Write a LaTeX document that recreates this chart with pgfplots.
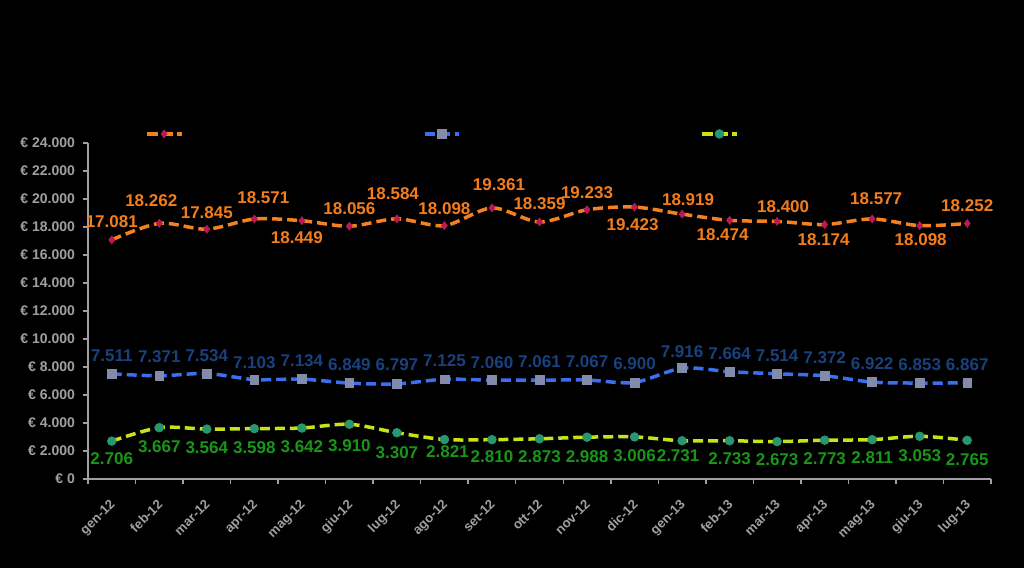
\documentclass[border=0pt]{standalone}
\usepackage{pgfplots}
\pgfplotsset{compat=1.18}
\usepackage{pgfplotstable}
\usepackage{fontspec}
\setmainfont{Liberation Sans}
\definecolor{axgray}{RGB}{160,160,160}
\definecolor{orline}{RGB}{245,128,30}
\definecolor{orlab}{RGB}{245,125,25}
\definecolor{ormark}{RGB}{185,25,85}
\definecolor{blline}{RGB}{60,110,240}
\definecolor{bllab}{RGB}{25,65,125}
\definecolor{blmark}{RGB}{130,140,170}
\definecolor{grline}{RGB}{200,225,25}
\definecolor{grlab}{RGB}{25,150,25}
\definecolor{grmark}{RGB}{40,150,110}

\pgfplotstableread{
x y lab dx dy
0 17081 17.081 0 9
1 18262 18.262 -4 11.5
2 17845 17.845 0 8.5
3 18571 18.571 4.5 10.5
4 18449 18.449 -2.5 -8.5
5 18056 18.056 0 9
6 18584 18.584 -2 12.5
7 18098 18.098 0 8.5
8 19361 19.361 3.5 11.5
9 18359 18.359 0 9
10 19233 19.233 0 8.5
11 19423 19.423 -1 -9
12 18919 18.919 3 7
13 18474 18.474 -3.5 -7
14 18400 18.400 3 7.5
15 18174 18.174 -0.5 -7.5
16 18577 18.577 2 10
17 18098 18.098 0.5 -7
18 18252 18.252 0 9
}\orangedata

\pgfplotstableread{
x y lab dx dy
0 7511 7.511 0 9
1 7371 7.371 0 9.5
2 7534 7.534 0 9
3 7103 7.103 0 8.5
4 7134 7.134 0 9
5 6849 6.849 0 9
6 6797 6.797 0 9.5
7 7125 7.125 0 9.5
8 7060 7.060 0 9
9 7061 7.061 0 9
10 7067 7.067 0 9
11 6900 6.900 0 9.5
12 7916 7.916 0 8.5
13 7664 7.664 0 9
14 7514 7.514 0 9
15 7372 7.372 0 9
16 6922 6.922 0 9
17 6853 6.853 0 9
18 6867 6.867 0 9
}\bluedata

\pgfplotstableread{
x y lab dx dy
0 2706 2.706 0 -9
1 3667 3.667 0 -9.5
2 3564 3.564 0 -9.5
3 3598 3.598 0 -9.5
4 3642 3.642 0 -9.5
5 3910 3.910 0 -10.5
6 3307 3.307 0 -10
7 2821 2.821 1.5 -6
8 2810 2.810 0 -8.5
9 2873 2.873 0 -9
10 2988 2.988 0 -9.5
11 3006 3.006 0 -9.5
12 2731 2.731 -2 -7.5
13 2733 2.733 0 -9
14 2673 2.673 0 -9
15 2773 2.773 0 -9
16 2811 2.811 0 -9
17 3053 3.053 0 -9.5
18 2765 2.765 0 -9.5
}\greendata

\begin{document}
\begin{tikzpicture}
\path[use as bounding box, fill=black] (-44pt,-44.5pt) rectangle (468pt,239.5pt);
\begin{axis}[
  at={(0,0)}, anchor=south west,
  scale only axis, width=451.5pt, height=168pt,
  xmin=-0.5, xmax=18.5, ymin=0, ymax=24000,
  scaled y ticks=false,
  axis x line*=bottom, axis y line*=left,
  axis line style={-, draw=axgray, line width=0.75pt},
  tick style={draw=axgray, line width=0.75pt},
  tick align=outside, major tick length=2.5pt,
  xtick={-0.5,0.5,1.5,2.5,3.5,4.5,5.5,6.5,7.5,8.5,9.5,10.5,11.5,12.5,13.5,14.5,15.5,16.5,17.5,18.5},
  xticklabels={},
  extra x ticks={0,1,2,3,4,5,6,7,8,9,10,11,12,13,14,15,16,17,18},
  extra x tick labels={gen-12,feb-12,mar-12,apr-12,mag-12,giu-12,lug-12,ago-12,set-12,ott-12,nov-12,dic-12,gen-13,feb-13,mar-13,apr-13,mag-13,giu-13,lug-13},
  extra x tick style={major tick length=0pt, tick label style={rotate=45, anchor=north east, font=\bfseries\fontsize{6.6}{8}\selectfont, text=axgray, yshift=-2.5pt, xshift=-4.5pt}},
  ytick={0,2000,4000,6000,8000,10000,12000,14000,16000,18000,20000,22000,24000},
  yticklabels={€ 0,€ 2.000,€ 4.000,€ 6.000,€ 8.000,€ 10.000,€ 12.000,€ 14.000,€ 16.000,€ 18.000,€ 20.000,€ 22.000,€ 24.000},
  y tick label style={font=\bfseries\fontsize{7}{8}\selectfont, text=axgray, xshift=-0.5pt},
  clip=false,
  legend columns=3,
  legend style={at={(0.063,1.027)}, anchor=west, draw=none, fill=none, inner sep=0pt,
    font=\fontsize{7}{8}\selectfont, text=black,
    /tikz/every even column/.append style={column sep=116pt}},
  every node near coord/.append style={font=\bfseries\fontsize{8.5}{9}\selectfont, anchor=center},
]
\addplot[orline, line width=1.75pt, dash pattern=on 5pt off 2.5pt, smooth,
  mark=diamond*, mark size=2pt, mark options={solid, fill=ormark, draw=ormark, line width=0.3pt},
  nodes near coords, point meta=explicit symbolic,
  visualization depends on={\thisrow{dx} \as \dx},
  visualization depends on={\thisrow{dy} \as \dy},
  nodes near coords style={text=orlab, xshift=\dx pt, yshift=\dy pt}]
  table[x=x, y=y, meta=lab]{\orangedata};
\addlegendentry{}
\addplot[blline, line width=1.75pt, dash pattern=on 5pt off 2.5pt, smooth,
  mark=square*, mark size=2.2pt, mark options={solid, fill=blmark, draw=blmark, line width=0.3pt},
  nodes near coords, point meta=explicit symbolic,
  visualization depends on={\thisrow{dy} \as \dy},
  nodes near coords style={text=bllab, yshift=\dy pt}]
  table[x=x, y=y, meta=lab]{\bluedata};
\addlegendentry{}
\addplot[grline, line width=1.75pt, dash pattern=on 5pt off 2.5pt, smooth,
  mark=*, mark size=2.2pt, mark options={solid, fill=grmark, draw=grmark, line width=0.3pt},
  nodes near coords, point meta=explicit symbolic,
  visualization depends on={\thisrow{dx} \as \dx},
  visualization depends on={\thisrow{dy} \as \dy},
  nodes near coords style={text=grlab, xshift=\dx pt, yshift=\dy pt}]
  table[x=x, y=y, meta=lab]{\greendata};
\addlegendentry{}
\end{axis}
\end{tikzpicture}
\end{document}
